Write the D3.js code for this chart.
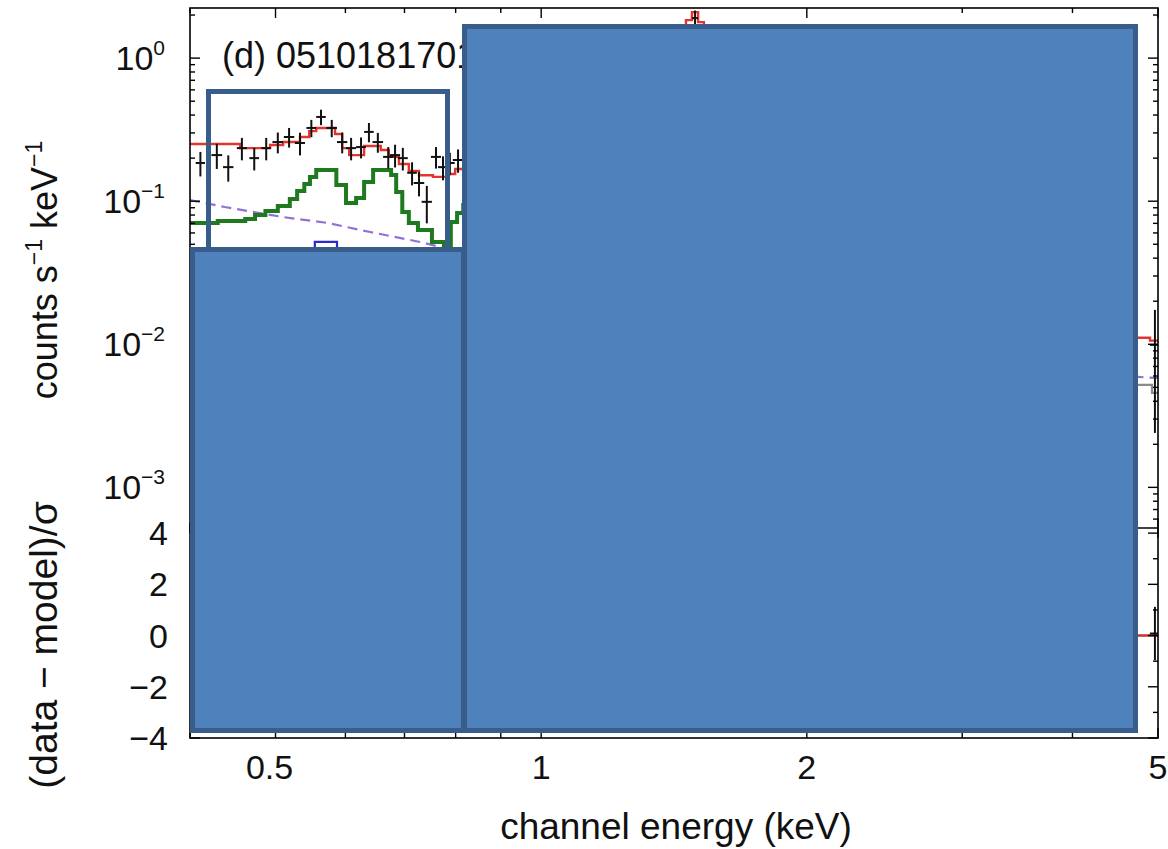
<!DOCTYPE html>
<html>
<head>
<meta charset="utf-8">
<script src="https://cdn.jsdelivr.net/npm/d3@7"></script>
<style>
  html, body { margin: 0; padding: 0; background: #fff; }
  svg { display: block; font-family: "Liberation Sans", Arial, Helvetica, sans-serif; }
</style>
</head>
<body>
<div id="wrapper"></div>
<script>
// Spectrum data: energy (keV), rate (counts s^-1 keV^-1)
const dataEnergy = [0.411, 0.429, 0.442, 0.458, 0.473, 0.488, 0.503, 0.518, 0.533, 0.549, 0.563, 0.579, 0.595, 0.609,
  0.625, 0.638, 0.653, 0.671, 0.683, 0.697, 0.714, 0.727, 0.742, 0.760, 0.774, 0.788, 0.805, 1.494, 4.96];
const dataEnergyErr = [0.005, 0.006, 0.006, 0.006, 0.006, 0.006, 0.007, 0.007, 0.007, 0.007, 0.007, 0.008, 0.008, 0.008,
  0.008, 0.008, 0.009, 0.009, 0.009, 0.009, 0.009, 0.010, 0.010, 0.010, 0.010, 0.010, 0.011, 0.012, 0.065];
const dataRate = [0.185, 0.210, 0.173, 0.235, 0.200, 0.235, 0.259, 0.281, 0.255, 0.325, 0.388, 0.325, 0.259, 0.235,
  0.239, 0.305, 0.259, 0.204, 0.210, 0.200, 0.158, 0.134, 0.099, 0.204, 0.173, 0.185, 0.194, 1.905, 0.0099];
const dataRateErr = [0.036, 0.042, 0.036, 0.042, 0.036, 0.042, 0.043, 0.044, 0.046, 0.045, 0.048, 0.045, 0.043, 0.042,
  0.040, 0.047, 0.041, 0.035, 0.038, 0.036, 0.029, 0.026, 0.029, 0.035, 0.033, 0.033, 0.036, 0.246, 0.0075];

// Model components as step edges [energy, rate]
const totalModel = [[0.400, 0.251], [0.456, 0.235], [0.493, 0.247], [0.510, 0.259], [0.533, 0.281], [0.546, 0.309],
  [0.556, 0.325], [0.584, 0.295], [0.595, 0.235], [0.606, 0.210], [0.630, 0.243], [0.658, 0.228], [0.672, 0.204],
  [0.690, 0.182], [0.708, 0.163], [0.727, 0.152], [0.754, 0.148], [0.782, 0.155], [0.799, 0.168], [0.816, 0.173],
  [1.459, 1.844], [1.482, 2.097], [1.506, 1.786], [1.529, 0.970], [4.648, 0.0111], [4.897, 0.0106], [5.0, 0.0106]];
const thermalModel = [[0.400, 0.0704], [0.430, 0.0727], [0.462, 0.0751], [0.474, 0.0801], [0.487, 0.0854],
  [0.503, 0.0926], [0.519, 0.1036], [0.529, 0.1179], [0.539, 0.1319], [0.547, 0.1476], [0.556, 0.1652],
  [0.586, 0.1298], [0.601, 0.0971], [0.617, 0.1053], [0.630, 0.1362], [0.645, 0.1652], [0.676, 0.1524],
  [0.685, 0.1160], [0.696, 0.0840], [0.708, 0.0704], [0.725, 0.0629], [0.752, 0.0519], [0.776, 0.0486],
  [0.790, 0.0716], [0.803, 0.0827], [0.816, 0.0940], [0.850, 0.0940]];
const powerLaw = [[0.400, 0.1019], [0.438, 0.0911], [0.509, 0.0776], [0.573, 0.0704], [0.640, 0.0609],
  [0.729, 0.0519], [0.768, 0.0479], [4.746, 0.00591], [5.0, 0.00581]];
const lineModel = [[0.520, 0.034], [0.554, 0.052], [0.587, 0.036], [0.620, 0.036]];
const bkgModel = [[4.648, 0.00520], [4.922, 0.00457], [5.0, 0.00457]];

// Residuals (data - model)/sigma
const residEnergy = [4.96];
const residEnergyErr = [0.065];
const residValue = [0.08];
const residErr = [1.04];

const xTickLabels = [0.5, 1, 2, 5];
const yTopTicks = [1, 0.1, 0.01, 0.001];
const yTopExponents = ["0", "\u22121", "\u22122", "\u22123"];
const yResTicks = [4, 2, 0, -2, -4];
const panelLabel = "(d) 0510181701";

const drawChart = () => {
  const dims = { width: 1168, height: 849, left: 190, right: 1158, top: 8, split: 528, bottom: 738 };

  const svg = d3.select('#wrapper')
    .append('svg')
      .attr('width', dims.width)
      .attr('height', dims.height);

  const xScale = d3.scaleLog().domain([0.4, 5]).range([dims.left, dims.right]);
  const yScale = d3.scaleLog().domain([5.2e-4, 2.24]).range([dims.split, dims.top]);
  const rScale = d3.scaleLinear().domain([-4, 4.2]).range([dims.bottom, dims.split]);

  const defs = svg.append('defs');
  defs.append('clipPath').attr('id', 'clipTop').append('rect')
    .attr('x', dims.left).attr('y', dims.top)
    .attr('width', dims.right - dims.left).attr('height', dims.split - dims.top);
  defs.append('clipPath').attr('id', 'clipRes').append('rect')
    .attr('x', dims.left).attr('y', dims.split)
    .attr('width', dims.right - dims.left).attr('height', dims.bottom - dims.split);

  const top = svg.append('g').attr('clip-path', 'url(#clipTop)');
  const res = svg.append('g').attr('clip-path', 'url(#clipRes)');

  const stepLine = d3.line()
    .x(d => xScale(d[0]))
    .y(d => yScale(d[1]))
    .curve(d3.curveStepAfter);
  const smoothLine = d3.line()
    .x(d => xScale(d[0]))
    .y(d => yScale(d[1]));

  top.append('path').attr('d', smoothLine(powerLaw))
    .attr('fill', 'none').attr('stroke', '#9470d4').attr('stroke-width', 2.2)
    .attr('stroke-dasharray', '10,6');
  top.append('path').attr('d', stepLine(lineModel))
    .attr('fill', 'none').attr('stroke', '#2a2ad0').attr('stroke-width', 2.2);
  top.append('path').attr('d', stepLine(bkgModel))
    .attr('fill', 'none').attr('stroke', '#8a8a8a').attr('stroke-width', 2.2);
  top.append('path').attr('d', stepLine(thermalModel))
    .attr('fill', 'none').attr('stroke', '#1f7a1f').attr('stroke-width', 4);
  top.append('path').attr('d', stepLine(totalModel))
    .attr('fill', 'none').attr('stroke', '#e3352d').attr('stroke-width', 2.4);

  // data crosses
  const yMin = yScale.domain()[0];
  const points = dataEnergy.map((e, i) => ({ e, de: dataEnergyErr[i], v: dataRate[i], dv: dataRateErr[i] }));
  const cross = top.selectAll('g.pt').data(points).join('g').attr('class', 'pt')
    .attr('stroke', '#111').attr('stroke-width', 2);
  cross.append('line')
    .attr('x1', d => xScale(d.e - d.de)).attr('x2', d => xScale(d.e + d.de))
    .attr('y1', d => yScale(d.v)).attr('y2', d => yScale(d.v));
  cross.append('line')
    .attr('x1', d => xScale(d.e)).attr('x2', d => xScale(d.e))
    .attr('y1', d => yScale(d.v + d.dv)).attr('y2', d => yScale(Math.max(d.v - d.dv, yMin)));

  // residual panel
  res.append('line')
    .attr('x1', dims.left).attr('x2', dims.right)
    .attr('y1', rScale(0)).attr('y2', rScale(0))
    .attr('stroke', '#c8302c').attr('stroke-width', 2.4);
  const rPoints = residEnergy.map((e, i) => ({ e, de: residEnergyErr[i], v: residValue[i], dv: residErr[i] }));
  const rCross = res.selectAll('g.rpt').data(rPoints).join('g').attr('class', 'rpt')
    .attr('stroke', '#111').attr('stroke-width', 2);
  rCross.append('line')
    .attr('x1', d => xScale(d.e - d.de)).attr('x2', d => xScale(d.e + d.de))
    .attr('y1', d => rScale(d.v)).attr('y2', d => rScale(d.v));
  rCross.append('line')
    .attr('x1', d => xScale(d.e)).attr('x2', d => xScale(d.e))
    .attr('y1', d => rScale(d.v + d.dv)).attr('y2', d => rScale(d.v - d.dv));

  // frame and ticks
  const frame = svg.append('g').attr('stroke', '#000').attr('stroke-width', 1.6).attr('fill', 'none');
  frame.append('rect').attr('x', dims.left).attr('y', dims.top)
    .attr('width', dims.right - dims.left).attr('height', dims.bottom - dims.top);
  frame.append('line').attr('x1', dims.left).attr('x2', dims.right)
    .attr('y1', dims.split).attr('y2', dims.split);

  const ticks = svg.append('g').attr('stroke', '#000').attr('stroke-width', 1.4);
  const xt = xScale.ticks();
  const xLen = d => xTickLabels.includes(+d.toFixed(3)) ? 10 : 5;
  [[dims.top, 1], [dims.split, -1], [dims.split, 1], [dims.bottom, -1]].forEach(([y0, dir]) => {
    ticks.selectAll(null).data(xt).join('line')
      .attr('x1', d => xScale(d)).attr('x2', d => xScale(d))
      .attr('y1', y0).attr('y2', d => y0 + dir * xLen(d));
  });
  const yt = yScale.ticks();
  const yLen = d => Math.abs(Math.log10(d) - Math.round(Math.log10(d))) < 1e-6 ? 10 : 5;
  [[dims.left, 1], [dims.right, -1]].forEach(([x0, dir]) => {
    ticks.selectAll(null).data(yt).join('line')
      .attr('y1', d => yScale(d)).attr('y2', d => yScale(d))
      .attr('x1', x0).attr('x2', d => x0 + dir * yLen(d));
  });
  const rt = rScale.ticks(8);
  [[dims.left, 1], [dims.right, -1]].forEach(([x0, dir]) => {
    ticks.selectAll(null).data(rt).join('line')
      .attr('y1', d => rScale(d)).attr('y2', d => rScale(d))
      .attr('x1', x0).attr('x2', d => x0 + dir * (d % 2 === 0 ? 10 : 5));
  });

  // tick labels
  const labels = svg.append('g').attr('fill', '#111').attr('font-size', 34);
  labels.selectAll('text.xl').data(xTickLabels).join('text').attr('class', 'xl')
    .attr('x', d => xScale(d) - (d === 0.5 ? 6 : 0)).attr('y', 779).attr('text-anchor', 'middle')
    .text(d => d);
  const yl = labels.selectAll('text.yl').data(yTopTicks).join('text').attr('class', 'yl')
    .attr('x', 165).attr('y', d => yScale(d) + 12).attr('text-anchor', 'end');
  yl.append('tspan').text('10');
  yl.append('tspan').attr('font-size', 21).attr('dy', -15).text((d, i) => yTopExponents[i]);
  labels.selectAll('text.rl').data(yResTicks).join('text').attr('class', 'rl')
    .attr('x', 168).attr('y', d => rScale(d) + 12).attr('text-anchor', 'end')
    .text(d => d < 0 ? '\u2212' + Math.abs(d) : d);

  // axis titles
  svg.append('text')
    .attr('x', 676).attr('y', 839)
    .attr('text-anchor', 'middle').attr('font-size', 37).attr('fill', '#111')
    .text('channel energy (keV)');
  const yTitle = svg.append('text')
    .attr('transform', 'translate(57,270) rotate(-90)')
    .attr('text-anchor', 'middle').attr('font-size', 36).attr('fill', '#111');
  yTitle.append('tspan').text('counts s');
  yTitle.append('tspan').attr('font-size', 23).attr('dy', -15).text('\u22121');
  yTitle.append('tspan').attr('dy', 15).text(' keV');
  yTitle.append('tspan').attr('font-size', 23).attr('dy', -15).text('\u22121');
  svg.append('text')
    .attr('transform', 'translate(57,645) rotate(-90)')
    .attr('text-anchor', 'middle').attr('font-size', 39).attr('fill', '#111')
    .text('(data \u2212 model)/\u03c3');

  svg.append('text')
    .attr('x', 222).attr('y', 68).attr('font-size', 36).attr('fill', '#111')
    .text(panelLabel);

  // cover boxes laid over the figure (outer edges in pixels)
  const boxes = [
    { x0: 206, y0: 89, x1: 450, y1: 260, filled: false },
    { x0: 190, y0: 247, x1: 466, y1: 733, filled: true },
    { x0: 462, y0: 24, x1: 1138, y1: 733, filled: true },
  ];
  const sw = 5;
  svg.append('g').selectAll('rect').data(boxes).join('rect')
    .attr('x', d => d.x0 + sw / 2).attr('y', d => d.y0 + sw / 2)
    .attr('width', d => d.x1 - d.x0 - sw).attr('height', d => d.y1 - d.y0 - sw)
    .attr('fill', d => d.filled ? '#4f81bd' : 'none')
    .attr('stroke', '#385d8a').attr('stroke-width', sw);
};

drawChart();
</script>
</body>
</html>
